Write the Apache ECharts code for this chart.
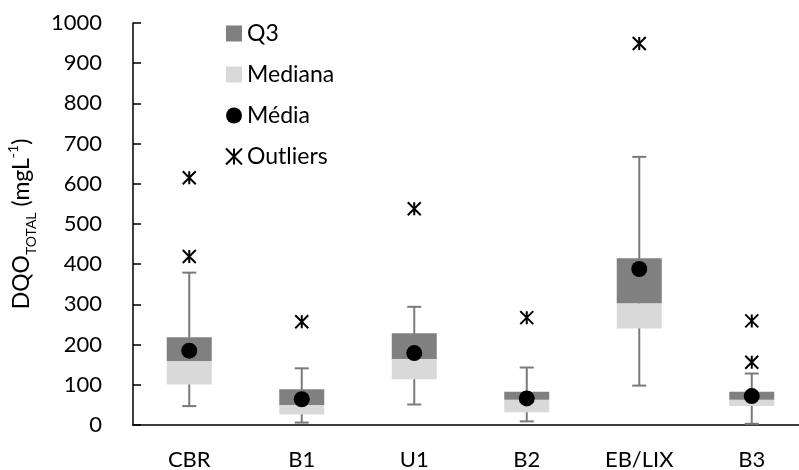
<!DOCTYPE html>
<html>
<head>
<meta charset="utf-8">
<script src="https://cdn.jsdelivr.net/npm/echarts@6/dist/echarts.min.js"></script>
<style>html,body{margin:0;padding:0;background:#fff}#c{width:799px;height:470px}</style>
</head>
<body>
<div id="c"></div>
<script>
const categories = ['CBR', 'B1', 'U1', 'B2', 'EB/LIX', 'B3'];
const q1 = [101, 26, 114, 32, 240, 47];
const median = [159, 50, 164, 63, 303, 63];
const q3 = [218, 89, 228, 83, 415, 83];
const minV = [47, 6, 51, 9, 98, 3];
const maxV = [379, 141, 294, 143, 667, 128];
const mean = [185, 64, 179, 66, 388, 72];
const outliers = [['CBR', 615], ['CBR', 419], ['B1', 257], ['U1', 538], ['B2', 267], ['EB/LIX', 949], ['B3', 259], ['B3', 156]];
const yTicks = [0, 1000, 100];

const FONT = 'Lato';
const star = 'path://M0 0 L10 10 M10 0 L0 10 M5 0 L5 10';

const chart = echarts.init(document.getElementById('c'), null, {renderer: 'canvas'});
chart.setOption({
  animation: false,
  backgroundColor: '#fff',
  textStyle: {fontFamily: FONT},
  grid: {left: 133, right: -9, top: 23, bottom: 45, containLabel: false, outerBoundsMode: 'none'},
  legend: {
    orient: 'vertical', left: 225, top: 22, padding: 0, itemGap: 18, itemWidth: 16, itemHeight: 16,
    textStyle: {fontSize: 23, lineHeight: 23, color: '#000', fontFamily: FONT},
    data: [
      {name: 'Q3', icon: 'rect'},
      {name: 'Mediana', icon: 'rect'},
      {name: 'Média', icon: 'circle'},
      {name: 'Outliers'}
    ]
  },
  xAxis: {
    type: 'category', data: categories,
    axisLine: {lineStyle: {color: '#000', width: 1.5}},
    axisTick: {inside: true, length: 8, lineStyle: {color: '#000', width: 1.5}},
    axisLabel: {color: '#000', fontSize: 22, margin: 24, fontFamily: FONT}
  },
  yAxis: {
    type: 'value', min: yTicks[0], max: yTicks[1], interval: yTicks[2],
    splitLine: {show: false},
    axisLine: {show: true, lineStyle: {color: '#000', width: 1.5}},
    axisTick: {show: true, inside: true, length: 8, lineStyle: {color: '#000', width: 1.5}},
    axisLabel: {color: '#000', fontSize: 22, margin: 31, fontFamily: FONT, formatter: v => String(v)},
    name: '{a|DQO}{b|TOTAL}{a| (mgL}{c|-1}{a|)}',
    nameLocation: 'middle', nameRotate: 90, nameGap: 95,
    nameTextStyle: {
      rich: {
        a: {fontSize: 23, lineHeight: 32, color: '#000', fontFamily: FONT},
        b: {fontSize: 14, lineHeight: 14, verticalAlign: 'bottom', color: '#000', fontFamily: FONT},
        c: {fontSize: 14, lineHeight: 14, verticalAlign: 'top', color: '#000', fontFamily: FONT}
      }
    }
  },
  series: [
    {
      type: 'custom', name: 'whisker', z: 1,
      data: categories.map((c, i) => [i, minV[i], maxV[i]]),
      renderItem: function (params, api) {
        const lo = api.coord([api.value(0), api.value(1)]);
        const hi = api.coord([api.value(0), api.value(2)]);
        const hw = 7;
        const st = {stroke: '#7a7a7a', lineWidth: 2};
        return {
          type: 'group', children: [
            {type: 'line', shape: {x1: lo[0], y1: lo[1], x2: hi[0], y2: hi[1]}, style: st},
            {type: 'line', shape: {x1: lo[0] - hw, y1: lo[1], x2: lo[0] + hw, y2: lo[1]}, style: st},
            {type: 'line', shape: {x1: hi[0] - hw, y1: hi[1], x2: hi[0] + hw, y2: hi[1]}, style: st}
          ]
        };
      }
    },
    {
      type: 'bar', name: 'base', stack: 'box', z: 2, barWidth: 45,
      itemStyle: {color: 'transparent'},
      data: q1
    },
    {
      type: 'bar', name: 'Mediana', stack: 'box', z: 2, barWidth: 45,
      itemStyle: {color: '#d9d9d9'},
      data: median.map((m, i) => m - q1[i])
    },
    {
      type: 'bar', name: 'Q3', stack: 'box', z: 2, barWidth: 45,
      itemStyle: {color: '#808080'},
      data: q3.map((q, i) => q - median[i])
    },
    {
      type: 'scatter', name: 'Média', z: 3, symbol: 'circle', symbolSize: 16,
      itemStyle: {color: '#000', opacity: 1},
      data: categories.map((c, i) => [c, mean[i]])
    },
    {
      type: 'scatter', name: 'Outliers', z: 3, symbol: star, symbolSize: 13,
      itemStyle: {color: 'transparent', borderColor: '#000', borderWidth: 2, opacity: 1},
      data: outliers
    }
  ]
});
</script>
</body>
</html>
